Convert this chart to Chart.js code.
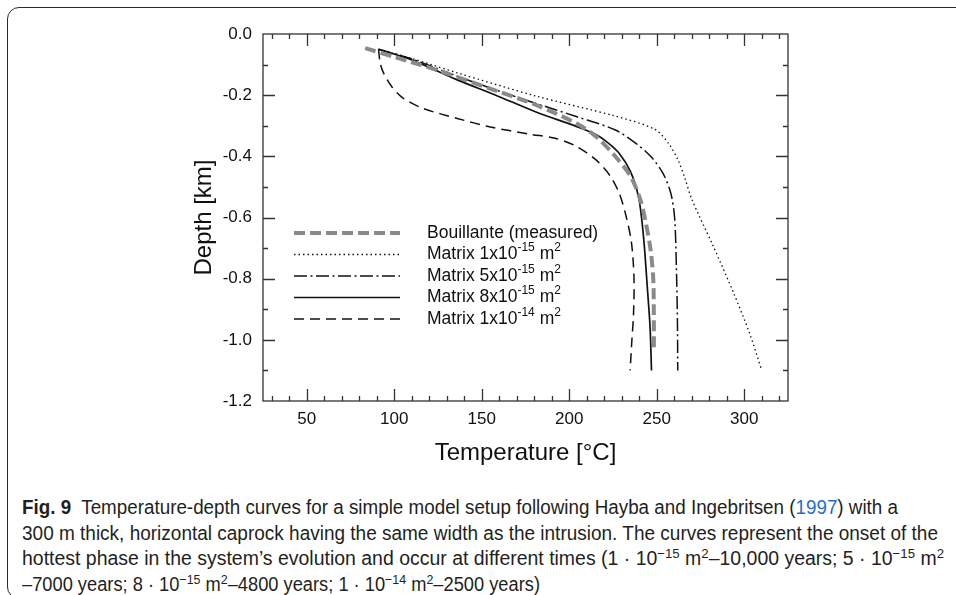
<!DOCTYPE html>
<html>
<head>
<meta charset="utf-8">
<script src="https://cdn.jsdelivr.net/npm/chart.js@4.4.0/dist/chart.umd.min.js"></script>
<style>
  html, body { margin: 0; padding: 0; background: #fff; }
  body { width: 956px; height: 595px; position: relative; overflow: hidden; }
  #frame { position: absolute; left: 7px; top: 7px; width: 1000px; height: 592px; border: 1.6px solid #2b2b2b; border-radius: 12px; box-sizing: border-box; }
  #wrap { position: absolute; left: 0; top: 0; width: 956px; height: 470px; }
  #caption { position: absolute; left: 22px; top: 495px; font-family: 'Liberation Sans Narrow', 'Liberation Sans', Arial, sans-serif; font-size: 20px; line-height: 25.5px; color: #231f20; }
  #caption div { white-space: nowrap; transform-origin: 0 50%; display: block; width: max-content; }
  #caption sup { font-size: 0.68em; vertical-align: 0.5em; line-height: 0; }
  #caption a { color: #1f6fd1; text-decoration: none; }
</style>
</head>
<body>
<div id="frame"></div>
<div id="wrap"><canvas id="tdChart" width="956" height="470"></canvas></div>
<div id="caption">
  <div data-w="876"><b>Fig. 9</b>&nbsp; Temperature-depth curves for a simple model setup following Hayba and Ingebritsen (<a>1997</a>) with a</div>
  <div data-w="916">300 m thick, horizontal caprock having the same width as the intrusion. The curves represent the onset of the</div>
  <div data-w="922">hottest phase in the system’s evolution and occur at different times (1 · 10<sup>−15</sup> m<sup>2</sup>–10,000 years; 5 · 10<sup>−15</sup> m<sup>2</sup></div>
  <div data-w="518">–7000 years; 8 · 10<sup>−15</sup> m<sup>2</sup>–4800 years; 1 · 10<sup>−14</sup> m<sup>2</sup>–2500 years)</div>
</div>
<script>
// temperature [°C] and depth [km]
const bouillanteT = [83.4, 100, 124, 158, 181, 204, 215, 226, 235, 240.5, 243.5, 246.5, 248, 248.3, 248.4];
const bouillanteD = [-0.046, -0.075, -0.117, -0.185, -0.232, -0.292, -0.334, -0.398, -0.465, -0.54, -0.61, -0.707, -0.8, -0.9, -1.04];

const m1e15T = [91, 110, 136, 181, 226, 249, 257, 262, 266, 270, 282, 294, 303, 310];
const m1e15D = [-0.05, -0.08, -0.127, -0.203, -0.268, -0.312, -0.36, -0.41, -0.47, -0.54, -0.69, -0.848, -0.978, -1.1];

const m5e15T = [91, 110, 136, 158, 181, 204, 226, 237.5, 246.5, 253.5, 258, 260.2, 261.2, 261.8, 262];
const m5e15D = [-0.05, -0.082, -0.138, -0.183, -0.227, -0.27, -0.313, -0.355, -0.4, -0.455, -0.52, -0.6, -0.76, -0.93, -1.1];

const m8e15T = [91, 110, 136, 158, 181, 204, 215, 222, 228.5, 235, 239.5, 241.5, 243, 244.5, 246.2, 247];
const m8e15D = [-0.05, -0.085, -0.15, -0.2, -0.255, -0.302, -0.328, -0.355, -0.39, -0.45, -0.53, -0.61, -0.7, -0.82, -0.96, -1.1];

const m1e14T = [91, 92, 94, 98.7, 105.4, 116.8, 136, 155, 178, 192, 203.6, 215, 223.5, 228.5, 232, 235.5, 237, 236.7, 235.8, 234.8];
const m1e14D = [-0.05, -0.096, -0.129, -0.173, -0.211, -0.244, -0.276, -0.304, -0.328, -0.341, -0.366, -0.41, -0.465, -0.52, -0.585, -0.68, -0.8, -0.92, -1.0, -1.1];

// legend text pieces: normal, superscript, normal, superscript
const legendLabels = [
  ['Bouillante (measured)'],
  ['Matrix 1x10', '-15', ' m', '2'],
  ['Matrix 5x10', '-15', ' m', '2'],
  ['Matrix 8x10', '-15', ' m', '2'],
  ['Matrix 1x10', '-14', ' m', '2']
];

const xTicks = [50, 100, 150, 200, 250, 300];
const yTicks = [0, -0.2, -0.4, -0.6, -0.8, -1.0, -1.2];

function pts(t, d) {
  return t.map((v, i) => ({ x: v, y: d[i] }));
}

const FONT = "'Liberation Sans', Arial, sans-serif";

// inward ticks on all four sides + frame
const framePlugin = {
  id: 'frame',
  afterDraw(chart) {
    const { ctx, chartArea: a, scales: { x, y } } = chart;
    ctx.save();
    ctx.strokeStyle = '#333';
    ctx.lineWidth = 1.3;
    ctx.strokeRect(a.left, a.top, a.right - a.left, a.bottom - a.top);
    ctx.beginPath();
    for (let v = 30; v <= 320; v += 10) {
      const px = Math.round(x.getPixelForValue(v)) + 0.5;
      const len = v % 50 === 0 ? 12 : 5;
      ctx.moveTo(px, a.bottom); ctx.lineTo(px, a.bottom - len);
      ctx.moveTo(px, a.top); ctx.lineTo(px, a.top + len);
    }
    for (let k = 1; k < 12; k++) {
      const py = Math.round(y.getPixelForValue(-k / 10)) + 0.5;
      const len = k % 2 === 0 ? 12 : 5;
      ctx.moveTo(a.left, py); ctx.lineTo(a.left + len, py);
      ctx.moveTo(a.right, py); ctx.lineTo(a.right - len, py);
    }
    ctx.stroke();
    ctx.restore();
  }
};

const legendPlugin = {
  id: 'supLegend',
  afterDraw(chart) {
    const { ctx, chartArea: a } = chart;
    ctx.save();
    chart.data.datasets.forEach((ds, i) => {
      const yy = 233 + i * 21.5;
      ctx.strokeStyle = ds.borderColor;
      ctx.lineWidth = ds.borderWidth;
      ctx.setLineDash(ds.borderDash || []);
      ctx.beginPath();
      ctx.moveTo(a.left + 31, yy);
      ctx.lineTo(a.left + 137, yy);
      ctx.stroke();
      ctx.setLineDash([]);
      let tx = a.left + 164;
      ctx.fillStyle = '#111';
      ctx.textBaseline = 'middle';
      legendLabels[i].forEach((part, j) => {
        const sup = j % 2 === 1;
        ctx.font = (sup ? '12px ' : '17.5px ') + FONT;
        ctx.fillText(part, tx, sup ? yy - 6.5 : yy);
        tx += ctx.measureText(part).width;
      });
    });
    ctx.restore();
  }
};

new Chart(document.getElementById('tdChart'), {
  type: 'scatter',
  data: {
    datasets: [
      { label: 'Bouillante (measured)', data: pts(bouillanteT, bouillanteD), borderColor: '#8a8a8a', borderWidth: 4, borderDash: [11, 5] },
      { label: 'Matrix 1x10-15 m2', data: pts(m1e15T, m1e15D), borderColor: '#111', borderWidth: 1.3, borderDash: [1.5, 3] },
      { label: 'Matrix 5x10-15 m2', data: pts(m5e15T, m5e15D), borderColor: '#111', borderWidth: 1.5, borderDash: [13, 3.5, 2, 3.5] },
      { label: 'Matrix 8x10-15 m2', data: pts(m8e15T, m8e15D), borderColor: '#111', borderWidth: 1.7 },
      { label: 'Matrix 1x10-14 m2', data: pts(m1e14T, m1e14D), borderColor: '#111', borderWidth: 1.5, borderDash: [10, 6] }
    ].map(ds => Object.assign(ds, { showLine: true, pointRadius: 0, tension: 0.3, fill: false }))
  },
  options: {
    responsive: false,
    animation: false,
    layout: { padding: { left: 190, right: 168, top: 34, bottom: 2 } },
    plugins: { legend: { display: false }, tooltip: { enabled: false } },
    scales: {
      x: {
        type: 'linear', min: 25, max: 325,
        grid: { display: false, drawTicks: false },
        border: { display: false },
        afterBuildTicks: s => { s.ticks = xTicks.map(v => ({ value: v })); },
        ticks: {
          padding: 8, color: '#111',
          font: { family: FONT, size: 17 },
          callback: v => String(v)
        },
        title: { display: true, text: 'Temperature [°C]', color: '#111', font: { family: FONT, size: 24 }, padding: 0 },
        afterFit: s => { s.height = 67; }
      },
      y: {
        type: 'linear', min: -1.2, max: 0,
        grid: { display: false, drawTicks: false },
        border: { display: false },
        afterBuildTicks: s => { s.ticks = yTicks.map(v => ({ value: v })); },
        ticks: {
          padding: 11, color: '#111',
          font: { family: FONT, size: 17 },
          callback: v => Number(v).toFixed(1)
        },
        title: { display: true, text: 'Depth [km]', color: '#111', font: { family: FONT, size: 24 }, padding: 0 },
        afterFit: s => { s.width = 73; }
      }
    }
  },
  plugins: [framePlugin, legendPlugin]
});

// stretch each caption line to the width it has in the figure
document.querySelectorAll('#caption div').forEach(el => {
  const w = el.getBoundingClientRect().width;
  el.style.transform = 'scaleX(' + (Number(el.dataset.w) / w) + ')';
});
</script>
</body>
</html>
